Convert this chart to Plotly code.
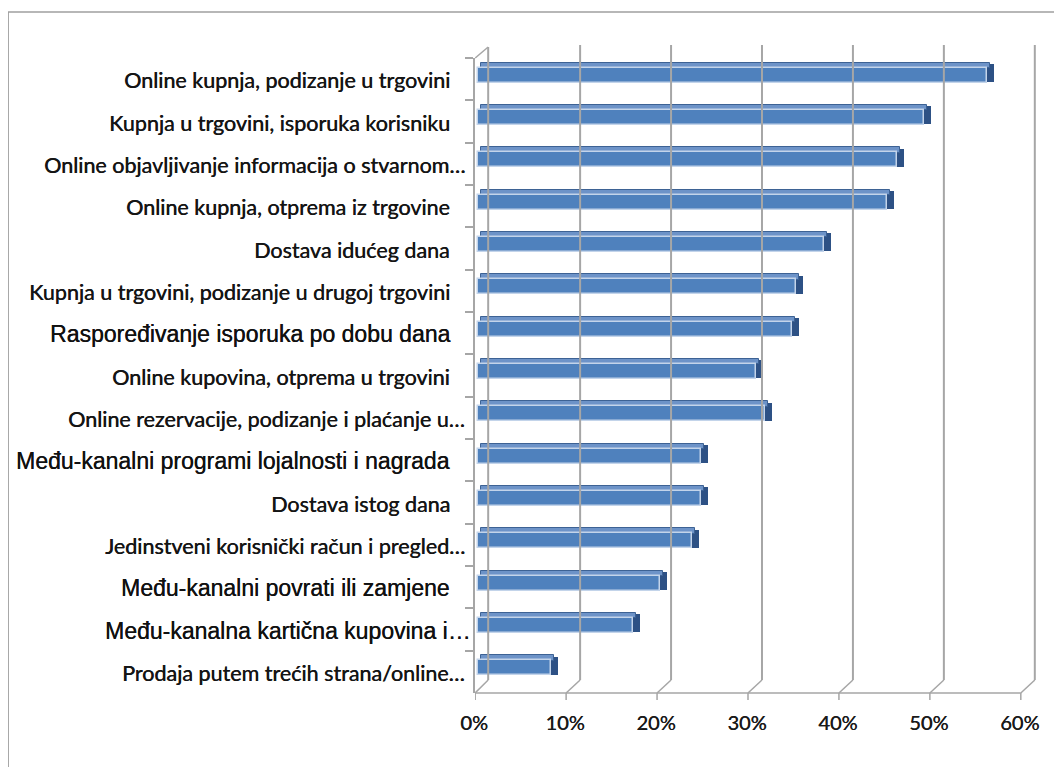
import plotly.graph_objects as go

categories = [
    "Online kupnja, podizanje u trgovini",
    "Kupnja u trgovini, isporuka korisniku",
    "Online objavljivanje informacija o stvarnom…",
    "Online kupnja, otprema iz trgovine",
    "Dostava idućeg dana",
    "Kupnja u trgovini, podizanje u drugoj trgovini",
    "Raspoređivanje isporuka po dobu dana",
    "Online kupovina, otprema u trgovini",
    "Online rezervacije, podizanje i plaćanje u…",
    "Među-kanalni programi lojalnosti i nagrada",
    "Dostava istog dana",
    "Jedinstveni korisnički račun i pregled…",
    "Među-kanalni povrati ili zamjene",
    "Među-kanalna kartična kupovina i…",
    "Prodaja putem trećih strana/online…",
]
values = [0.56, 0.49, 0.46, 0.45, 0.38, 0.35, 0.345, 0.305, 0.315,
          0.245, 0.245, 0.235, 0.20, 0.17, 0.08]
# label font family per category: "c" = Calibri-like, "a" = Arial-like
label_style = ["c", "c", "c", "c", "c", "c", "a", "c", "c", "a", "c", "c", "a", "a", "c"]
tick_vals = [0, 0.1, 0.2, 0.3, 0.4, 0.5, 0.6]
tick_text = ["0%", "10%", "20%", "30%", "40%", "50%", "60%"]

OFF = 8  # page body margin
W, H = 1062 - OFF, 767 - OFF
L, T = 475 - OFF, 58 - OFF
BOTTOM = 693 - OFF
XR = [-0.0035, 0.62]
PXU = 909.7  # pixels per unit of x
R = W - (L + (XR[1] - XR[0]) * PXU)
B = H - BOTTOM
PH = BOTTOM - T


def dx(px):
    return px / PXU


def py(y_ref):
    # y_ref given in reference-image pixels
    return (BOTTOM - (y_ref - OFF)) / PH


n = len(categories)
front_color = "#4f81bd"
top_color = "#6d93c8"
side_color = "#2d5185"

fig = go.Figure()
# side face (dark)
fig.add_trace(go.Bar(
    y=categories, x=[dx(7)] * n, base=values, orientation="h",
    offset=-0.36, width=0.43,
    marker=dict(color=side_color, line=dict(width=0)),
    hoverinfo="skip", showlegend=False))
# top face
fig.add_trace(go.Bar(
    y=categories, x=values, base=dx(3), orientation="h",
    offset=-0.39, width=0.13,
    marker=dict(color=top_color, line=dict(color="#3d6294", width=1)),
    hoverinfo="skip", showlegend=False))
# front face
fig.add_trace(go.Bar(
    y=categories, x=values, orientation="h",
    offset=-0.272, width=0.354,
    marker=dict(color=front_color, line=dict(color="#c3d4ea", width=1.5)),
    hovertemplate="%{y}: %{x:.0%}<extra></extra>", showlegend=False))

grid_col = "#a6a6a6"
shapes = []
# back wall left edge + top diagonal
shapes.append(dict(type="line", xref="x", yref="paper", x0=dx(10), x1=dx(10),
                   y0=py(680), y1=py(47), line=dict(color=grid_col, width=2)))
shapes.append(dict(type="line", xref="x", yref="paper", x0=dx(-3), x1=dx(10),
                   y0=py(58), y1=py(47), line=dict(color=grid_col, width=1.5)))
# front floor line
shapes.append(dict(type="line", xref="x", yref="paper", x0=dx(-3), x1=tick_vals[-1] + dx(-3),
                   y0=py(693), y1=py(693), line=dict(color=grid_col, width=1.5)))
for v in tick_vals:
    if v > 0:
        shapes.append(dict(type="line", xref="x", yref="paper", x0=v + dx(11), x1=v + dx(11),
                           y0=py(680), y1=py(45), line=dict(color=grid_col, width=2)))
    shapes.append(dict(type="line", xref="x", yref="paper", x0=v + dx(-3), x1=v + dx(11 if v > 0 else 10),
                       y0=py(693), y1=py(680), line=dict(color=grid_col, width=1.5)))
    shapes.append(dict(type="line", xref="x", yref="paper", x0=v + dx(-3), x1=v + dx(-3),
                       y0=py(693), y1=py(700), line=dict(color=grid_col, width=1.5)))
# outer frame
plot_w = W - L - R
shapes.append(dict(type="rect", xref="paper", yref="paper",
                   x0=(8 - OFF - L) / plot_w, x1=1.5, y0=-0.5, y1=py(12),
                   line=dict(color="#a0a0a0", width=1.5), fillcolor="rgba(0,0,0,0)", layer="below"))

annotations = []
for cat, st in zip(categories, label_style):
    trunc = cat.endswith("…")
    if st == "a":
        font = dict(family="Liberation Sans, Arial, sans-serif", size=23, color="#111111",
                    shadow="0.3px 0px 0px #111111")
    else:
        font = dict(family="Lato, sans-serif", size=21.5, color="#151515",
                    shadow="0.4px 0px 0px #151515")
    xs = -23
    if trunc:
        xs = -2 if st == "a" else -8
    annotations.append(dict(x=0, xref="paper", y=cat, yref="y", text=cat, showarrow=False,
                            xanchor="right", yanchor="middle", xshift=xs, yshift=-1, font=font))

fig.update_layout(
    width=W, height=H,
    margin=dict(l=L, r=R, t=T, b=B, pad=0),
    paper_bgcolor="white", plot_bgcolor="white",
    barmode="overlay", bargap=0,
    shapes=shapes, annotations=annotations,
    xaxis=dict(range=XR, tickvals=tick_vals, ticktext=tick_text, showgrid=False,
               zeroline=False, showline=False, ticks="",
               tickfont=dict(family="Lato, sans-serif", size=20, color="#1a1a1a",
                             shadow="0.3px 0px 0px #1a1a1a"),
               ticklabelshift=-4, ticklabelstandoff=16),
    yaxis=dict(categoryorder="array", categoryarray=categories, autorange="reversed",
               showticklabels=False, showgrid=False, zeroline=False,
               showline=True, linecolor=grid_col, linewidth=1.5,
               ticks="outside", tickson="boundaries", ticklen=8, tickwidth=1.5, tickcolor=grid_col),
)

fig.write_html("out.html")
